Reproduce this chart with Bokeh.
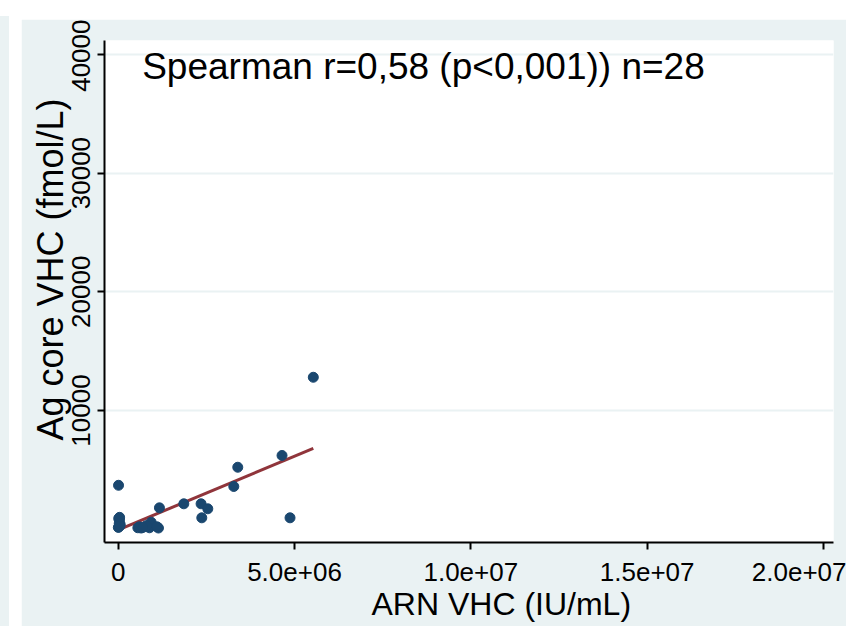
from bokeh.plotting import figure
from bokeh.layouts import row, column
from bokeh.models import FixedTicker, Range1d, Label, Spacer, Title
from bokeh.embed import file_html
from bokeh.resources import INLINE

# ARN VHC (IU/mL) vs Ag core VHC (fmol/L)
arn = [10000, 37000, 5000, 57000, 558000, 652000, 887000, 935000, 1142000, 1170000,
       1861000, 2351000, 2541000, 2371000, 3278000, 3391000, 4646000, 4873000, 5533000,
       20000, 30000, 15000, 50000, 600000, 800000, 1100000, 700000, 40000]
agcore = [3700, 790, 150, 400, 120, 100, 120, 590, 100, 1800,
          2140, 2140, 1720, 960, 3600, 5220, 6210, 960, 12800,
          200, 500, 900, 300, 200, 300, 200, 150, 1000]

# linear fit line (at min and max of ARN)
fit_x = [min(arn), max(arn)]
fit_y = [-50, 6800]

x_ticks = [0, 5e6, 1e7, 1.5e7, 2e7]
x_tick_labels = ["0", "5.0e+06", "1.0e+07", "1.5e+07", "2.0e+07"]
y_ticks = [10000, 20000, 30000, 40000]
y_tick_labels = ["10000", "20000", "30000", "40000"]

x_title = "ARN VHC (IU/mL)"
y_title = "Ag core VHC (fmol/L)"
annotation = "Spearman r=0,58 (p<0,001)) n=28"

BG = "#EAF2F3"
NAVY = "#1A476F"
MAROON = "#90353B"
FONT = "Liberation Sans"

p = figure(frame_width=729, frame_height=502, output_backend="svg", toolbar_location=None,
           x_range=Range1d(-388000, 2.0284e7), y_range=Range1d(-1120, 41170),
           min_border_left=83, min_border_right=13, min_border_top=21,
           min_border_bottom=84, background_fill_color="white",
           border_fill_color=BG, outline_line_color=None)

p.line(fit_x, fit_y, line_color=MAROON, line_width=3)
p.scatter(arn, agcore, size=10, fill_color=NAVY, line_color=NAVY)

p.xgrid.visible = False
p.ygrid.grid_line_color = BG
p.ygrid.grid_line_width = 2
p.ygrid.ticker = FixedTicker(ticks=y_ticks)

xa = p.xaxis[0]
xa.ticker = FixedTicker(ticks=x_ticks)
xa.major_label_overrides = {t: l for t, l in zip(x_ticks, x_tick_labels)}
ya = p.yaxis[0]
ya.ticker = FixedTicker(ticks=y_ticks)
ya.major_label_overrides = {t: l for t, l in zip(y_ticks, y_tick_labels)}
ya.major_label_orientation = "vertical"

for ax in (xa, ya):
    ax.axis_line_color = "black"
    ax.axis_line_width = 2
    ax.major_tick_line_color = "black"
    ax.major_tick_line_width = 2
    ax.major_tick_out = 7
    ax.major_tick_in = 0
    ax.minor_tick_line_color = None
    ax.major_label_text_font = FONT
    ax.major_label_text_font_size = "26px"
    ax.major_label_text_color = "black"

xa.major_label_standoff = 13
ya.major_label_standoff = 7

# axis titles (Stata places them off-centre relative to the plot region)
p.add_layout(Title(text=x_title, align="left", offset=267, standoff=0,
                   text_font=FONT, text_font_size="32px", text_font_style="normal",
                   text_color="black"), "below")
p.add_layout(Title(text=y_title, align="left", offset=102, standoff=-2,
                   text_font=FONT, text_font_size="36px", text_font_style="normal",
                   text_color="black"), "left")

p.add_layout(Label(x=680000, y=38950, text=annotation, text_font=FONT,
                   text_font_size="37px", text_color="black",
                   text_baseline="alphabetic", text_align="left"))

strip = Spacer(width=9, height=610, styles={"background-color": BG})
layout = row(column(Spacer(width=9, height=16), strip),
             Spacer(width=12, height=626),
             column(Spacer(width=825, height=19), p))

open("out.html", "w").write(file_html(layout, INLINE))
